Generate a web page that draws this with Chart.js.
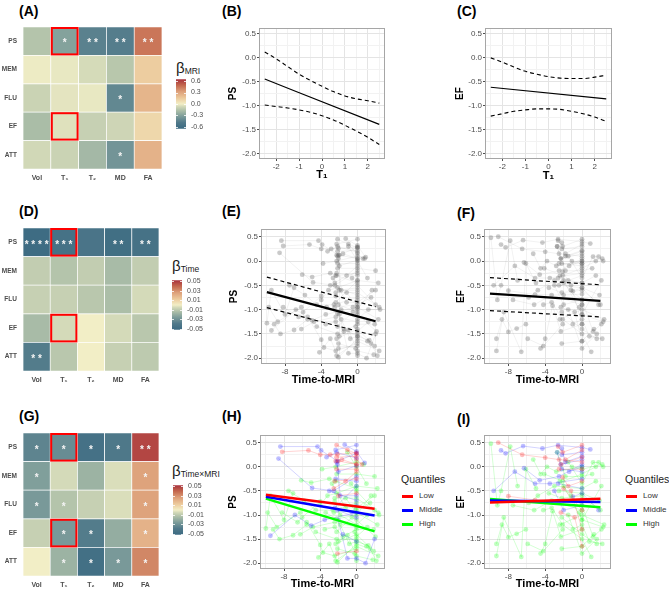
<!DOCTYPE html>
<html>
<head>
<meta charset="utf-8">
<script src="https://cdn.jsdelivr.net/npm/chart.js@4.4.1/dist/chart.umd.min.js"></script>
<style>
  body { margin: 0; background: #fff; width: 669px; height: 592px; position: relative; overflow: hidden;
         font-family: "Liberation Sans", Arial, sans-serif; }
  canvas { position: absolute; }
  .tag { position: absolute; font-weight: bold; font-size: 14px; line-height: 14px; color: #000; }
  .cbt { position: absolute; color: #1a1a1a; line-height: 1; white-space: nowrap; font-size: 15px; }
  .cbt sub { font-size: 8.5px; vertical-align: baseline; position: relative; top: 1px; }
  .qt { position: absolute; font-size: 10.5px; color: #1a1a1a; line-height: 1; }
  .ql { position: absolute; font-size: 8px; color: #333; line-height: 1; }
  .qk { position: absolute; height: 3px; width: 11px; }
</style>
</head>
<body>

<div class="tag" style="left:19px;top:4px">(A)</div>
<div class="tag" style="left:222px;top:4px">(B)</div>
<div class="tag" style="left:457px;top:4px">(C)</div>
<div class="tag" style="left:19px;top:204px">(D)</div>
<div class="tag" style="left:222px;top:204px">(E)</div>
<div class="tag" style="left:457px;top:206px">(F)</div>
<div class="tag" style="left:19px;top:409px">(G)</div>
<div class="tag" style="left:222px;top:409px">(H)</div>
<div class="tag" style="left:457px;top:412px">(I)</div>

<div class="cbt" style="left:176px;top:60px">β<sub>MRI</sub></div>
<div class="cbt" style="left:172px;top:258px">β<sub>Time</sub></div>
<div class="cbt" style="left:172px;top:463px">β<sub>Time×MRI</sub></div>

<div class="qt" style="left:401px;top:474px">Quantiles</div>
<div class="qk" style="left:402px;top:495px;background:#ff0000"></div>
<div class="qk" style="left:402px;top:509px;background:#0000ff"></div>
<div class="qk" style="left:402px;top:523px;background:#00ff00"></div>
<div class="ql" style="left:419px;top:492px">Low</div>
<div class="ql" style="left:419px;top:506px">Middle</div>
<div class="ql" style="left:419px;top:520px">High</div>

<div class="qt" style="left:625px;top:474px">Quantiles</div>
<div class="qk" style="left:626px;top:495px;background:#ff0000"></div>
<div class="qk" style="left:626px;top:509px;background:#0000ff"></div>
<div class="qk" style="left:626px;top:523px;background:#00ff00"></div>
<div class="ql" style="left:643px;top:492px">Low</div>
<div class="ql" style="left:643px;top:506px">Middle</div>
<div class="ql" style="left:643px;top:520px">High</div>

<script>
// ---- heatmap data ----
const ROWS = ['PS', 'MEM', 'FLU', 'EF', 'ATT'];
const COLS = ['Vol', 'T₁', 'T₂', 'MD', 'FA'];
const BOXED = [['PS', 'T₁'], ['EF', 'T₁']];

const BETA_MRI = [
  [-0.15, -0.30, -0.45, -0.47, 0.45],
  [-0.01, -0.02, -0.06, -0.14, 0.14],
  [-0.09, -0.03, -0.02, -0.42, 0.24],
  [-0.18, -0.04, -0.10, -0.08, 0.10],
  [-0.07, -0.09, -0.20, -0.36, 0.25]
];
const STARS_MRI = [
  ['', '*', '**', '**', '**'],
  ['', '', '', '', ''],
  ['', '', '', '*', ''],
  ['', '', '', '', ''],
  ['', '', '', '*', '']
];
const BETA_TIME = [
  [-0.050, -0.045, -0.043, -0.048, -0.045],
  [-0.009, -0.012, -0.009, -0.015, -0.009],
  [-0.008, -0.008, -0.011, -0.014, -0.005],
  [-0.015, -0.005, 0.000, -0.005, -0.011],
  [-0.038, -0.011, 0.000, -0.008, -0.010]
];
const STARS_TIME = [
  ['****', '***', '', '**', '**'],
  ['', '', '', '', ''],
  ['', '', '', '', ''],
  ['', '', '', '', ''],
  ['**', '', '', '', '']
];
const BETA_INT = [
  [-0.035, -0.032, -0.046, -0.040, 0.047],
  [-0.025, -0.005, -0.018, -0.004, 0.025],
  [-0.027, -0.012, -0.008, -0.004, 0.025],
  [-0.008, -0.027, -0.038, -0.020, 0.020],
  [0.000, -0.018, -0.047, -0.027, 0.032]
];
const STARS_INT = [
  ['*', '*', '*', '*', '**'],
  ['*', '', '', '', '*'],
  ['*', '*', '', '', '*'],
  ['', '*', '*', '', '*'],
  ['', '*', '*', '*', '*']
];
const CB_TICKS_MRI = [0.6, 0.3, 0, -0.3, -0.6];
const CB_TICKS_TIME = [0.05, 0.03, 0.01, -0.01, -0.03, -0.05];

// ---- T1 effect curves (B, C) ----
const T1_X = [-2.5, -2, -1.5, -1, -0.5, 0, 0.5, 1, 1.5, 2, 2.5];
const T1_FIT_X = [-2.5, 2.5];
const PS_T1_FIT = [-0.45, -1.39];
const PS_T1_UPPER = [0.11, -0.03, -0.19, -0.35, -0.48, -0.60, -0.71, -0.80, -0.86, -0.90, -0.95];
const PS_T1_LOWER = [-0.99, -1.02, -1.05, -1.09, -1.14, -1.21, -1.30, -1.41, -1.53, -1.66, -1.81];
const EF_T1_FIT = [-0.62, -0.86];
const EF_T1_UPPER = [-0.01, -0.10, -0.20, -0.29, -0.35, -0.40, -0.43, -0.44, -0.44, -0.41, -0.37];
const EF_T1_LOWER = [-1.22, -1.17, -1.12, -1.09, -1.07, -1.07, -1.08, -1.12, -1.17, -1.24, -1.33];

// ---- time-to-MRI fits (E, F, H, I) ----
const TIME_FIT_X = [-10, 2];
const PS_TIME_FIT = [-0.64, -1.24];
const PS_TIME_UPPER = [-0.33, -0.94];
const PS_TIME_LOWER = [-0.96, -1.54];
const EF_TIME_FIT = [-0.67, -0.82];
const EF_TIME_UPPER = [-0.34, -0.49];
const EF_TIME_LOWER = [-1.02, -1.15];
const PS_Q_LOW = [-0.58, -0.87];
const PS_Q_MID = [-0.62, -1.01];
const PS_Q_HIGH = [-0.66, -1.34];
const EF_Q_LOW = [-0.74, -0.66];
const EF_Q_MID = [-0.70, -0.73];
const EF_Q_HIGH = [-0.67, -0.84];

// subjects: [quantile, [[time, score], ...]]
const PS_SUBJECTS = [
  ['L', [[-8.2, 0.31], [-5.3, 0.34], [-4, 0.25], [-2.9, 0.25], [-2.1, 0.26], [0, 0.29]]],
  ['L', [[-2.2, 0.45], [0, 0.27]]],
  ['L', [[-2.3, 0.12], [-2, 0.12], [0, 0.05]]],
  ['L', [[-2.5, -0.45], [-1.2, -0.3], [0, -0.1]]],
  ['L', [[-2.1, -1.8], [0, -1.75]]],
  ['L', [[-2.4, -0.3], [0, -0.25]]],
  ['L', [[-1, 0.35], [0, 0.15], [0.6, 0.05]]],
  ['L', [[-2.2, -0.05], [0, -0.05]]],
  ['L', [[-2.0, -0.6], [0, -0.55]]],
  ['L', [[-2.2, 0.2], [0, 0.22]]],
  ['L', [[-1.6, 0.15], [0, 0.05]]],
  ['M', [[-8.4, 0.42], [-4.3, 0.42], [-3.9, 0.34], [-2.1, 0.12], [0, 0.28]]],
  ['M', [[-8.6, 0.17], [-4.9, -0.44], [-2.5, -0.5], [0, -0.2]]],
  ['M', [[-1.3, 0.46], [0, 0.32], [0.9, 0.08]]],
  ['M', [[-2.2, 0.1], [-2.0, -0.1], [0, 0.02]]],
  ['M', [[-9.5, -1.43], [-6.8, -1.0], [-5, -1.22], [-3.5, -1.1], [0, -0.95]]],
  ['M', [[-2.3, -0.25], [0, -0.3]]],
  ['M', [[-2, -1.1], [-1, -1.9], [0, -1.9], [1, -2.0], [2, -1.5]]],
  ['M', [[-2.1, 0.05], [-1.8, -0.6], [0, -0.6]]],
  ['M', [[-0.5, -0.95], [0, -0.8]]],
  ['M', [[-1.5, -1.4], [0, -1.55]]],
  ['M', [[-3.0, -0.5], [0, -0.7]]],
  ['M', [[-2.4, -0.85], [0, -0.4]]],
  ['M', [[-2.3, 0.35], [0, 0.45]]],
  ['M', [[-2.1, -0.9], [0, -1.05]]],
  ['M', [[-3.3, 0.2], [-2.2, 0.3], [0, 0.18]]],
  ['H', [[-10, -1.28], [-9.5, -0.6], [-8, -1.1], [-7, -0.55]]],
  ['H', [[-9.2, -1.3], [-8.5, -1.5], [-7, -1.42], [-5.5, -1.2]]],
  ['H', [[-8.2, -0.95], [-6.5, -1.15], [-6, -1.05], [-4, -0.72]]],
  ['H', [[-6.1, -0.28], [-5, -0.33], [-3, -0.25], [-2.3, -0.3], [0, -0.45]]],
  ['H', [[-5.5, -1.15], [-4, -1.62], [-3.7, -1.78], [-2.4, -1.85], [0, -1.7]]],
  ['H', [[-4.2, -1.88], [-3, -1.6], [-2.1, -1.98], [0, -1.6], [1.5, -1.7]]],
  ['H', [[-4, -0.8], [-3.2, -0.6], [-2.2, -0.55], [0, -0.4], [2.3, -0.45]]],
  ['H', [[-3.5, -1.3], [-2.4, -1.25], [-1.5, -1.45], [0, -1.3], [1.9, -1.3]]],
  ['H', [[-2.4, -0.72], [-1.8, -1.0], [0, -1.2], [1.2, -1.0], [2.5, -1.0]]],
  ['H', [[-2.0, -1.55], [-1, -1.42], [0, -1.85], [1.8, -1.93]]],
  ['H', [[-2.7, -0.35], [-1.2, -0.85], [0, -0.85], [2, -0.6]]],
  ['H', [[-1.8, -1.2], [-0.8, -1.6], [0, -1.55], [1.3, -1.63], [2.2, -1.95]]],
  ['H', [[-3.4, -0.95], [-2.2, -1.08], [0, -1.0], [1.6, -0.6]]],
  ['H', [[-1.0, 0.3], [0, 0.0], [1.1, -0.35]]],
  ['H', [[-2.2, -1.35], [-0.5, -1.05], [0, -1.1], [2.1, -1.45]]],
  ['H', [[-7.5, -0.5], [-5.8, -0.7], [-4.5, -0.9], [-2.6, -0.9], [0, -0.75]]],
  ['H', [[-2.1, -1.7], [-0.2, -1.8], [0, -1.95]]],
  ['H', [[-0.6, -0.35], [0, -0.5], [2, -0.9]]],
  ['H', [[-2.3, -1.6], [0, -1.4], [1.9, -1.75]]],
  ['H', [[-2.2, -0.15], [0, -0.15], [2, -0.2]]],
  ['H', [[-2.5, -0.95], [0, -0.9], [1.5, -0.75]]],
  ['H', [[-3.8, -0.05], [-2.3, 0.0], [0, 0.1], [0.8, 0.05]]],
  ['H', [[-2.4, -0.65], [0, -0.65], [2.4, -0.95]]],
  ['H', [[-4.5, -1.35], [-2.2, -1.5], [0, -1.5], [1.1, -1.65]]],
  ['H', [[-6.2, -1.4], [-4.8, -1.25], [-2.4, -1.15], [0, -1.25]]],
  ['H', [[-9.8, -0.95], [-8.8, -1.25], [-6.2, -0.95]]],
  ['H', [[-2.3, -1.95], [0, -1.65], [2.4, -1.85]]],
  ['H', [[-1.2, -0.65], [0, -0.95], [2.3, -1.2]]],
  ['H', [[-0.2, -1.35], [0, -1.45], [1.2, -1.25]]]
];
const EF_SUBJECTS = [
  ['L', [[-9.1, 0.5], [-6.5, 0.25], [-4, 0.19], [-2.5, 0.15], [0, 0.1]]],
  ['L', [[-2.6, 0.42], [-2.1, 0.3], [0, 0.45]]],
  ['L', [[-8.0, -0.61], [-5.1, -0.69], [-2.0, -0.7], [0, -0.68]]],
  ['L', [[-2.1, -0.22], [-1.5, -0.4], [0, -0.3]]],
  ['L', [[-2.3, -0.95], [-0.8, -1.05], [0, -1.65]]],
  ['L', [[-1.8, 0.15], [0, 0.35]]],
  ['L', [[-2.5, -0.05], [0, -0.05]]],
  ['L', [[-1.2, -0.5], [0, -1.3]]],
  ['L', [[-2.3, 0.05], [0, 0.2]]],
  ['L', [[-2.0, -0.45], [0, -0.9]]],
  ['M', [[-8.8, 0.34], [-8.3, 0.28], [-6.4, 0.43], [-4.3, 0.38], [-2.6, 0.45], [0, 0.4], [0.9, 0.36]]],
  ['M', [[-9.6, -0.5], [-7.3, -0.1], [-5.1, -0.35], [-3.5, -0.35], [0, -0.25]]],
  ['M', [[-6.3, -0.03], [-4.6, -0.28], [-2.5, -0.2], [0, 0.05]]],
  ['M', [[-2.2, 0.38], [-1.8, 0.1], [0, 0.22]]],
  ['M', [[-3.0, -0.5], [-2.0, -0.9], [0, -0.8]]],
  ['M', [[-2.7, 0.3], [-2.2, -0.05], [0, -0.1]]],
  ['M', [[-1, -0.62], [0, -0.55], [1.8, -0.9]]],
  ['M', [[-2.3, 0.05], [0, 0.15]]],
  ['M', [[-2.2, 0.25], [0, 0.3]]],
  ['M', [[-2.6, -0.35], [0, -0.45]]],
  ['M', [[-1.4, -0.1], [0, 0.0]]],
  ['H', [[-9.9, 0.48], [-9.2, -0.8], [-8.8, -0.5], [-7.8, 0.42], [-7.0, -0.4]]],
  ['H', [[-9.3, -1.6], [-8.7, -1.2], [-8, -1.46], [-7.1, -1.39], [-6.1, -1.3]]],
  ['H', [[-9.3, -1.85], [-8.5, -1.05], [-6.6, -1.87], [-6.1, -0.05], [-5, -0.45]]],
  ['H', [[-4.5, -1.8], [-4, -1.6], [-3.2, -0.92], [-2.3, -1.45], [0, -1.3]]],
  ['H', [[-5.3, 0.15], [-4.5, -0.15], [-3.8, 0.0], [-2.8, -0.1], [0, 0.0]]],
  ['H', [[-4.2, -0.9], [-3.3, -0.85], [-2.1, -1.2], [0, -1.5], [1, -1.87]]],
  ['H', [[-2.4, -0.3], [-1.2, -0.6], [0, -0.8], [1.2, -1.45], [2.1, -1.3]]],
  ['H', [[-1.5, 0.1], [0, -0.35], [1.2, 0.09], [1.8, 0.09], [2.3, 0.0]]],
  ['H', [[-2.0, -0.4], [0, -1.1], [2.1, -0.4]]],
  ['H', [[-3.6, -0.55], [-2.2, -0.65], [0, -0.6], [2, -0.9]]],
  ['H', [[-1.5, -1.0], [0, -1.8], [1.6, -1.5]]],
  ['H', [[-5.8, -0.75], [-4.8, -0.6], [-3, -0.4], [0, -0.45], [1.5, -0.3]]],
  ['H', [[-2.7, 0.3], [-1.8, -0.2], [0, -0.2], [1.1, -0.15]]],
  ['H', [[-1.0, -1.3], [0, -1.2], [0.8, -1.55], [2.2, -1.6]]],
  ['H', [[-2.4, -1.2], [0, -1.0], [2.4, -1.2]]],
  ['H', [[-2.5, -0.5], [0, -0.55], [1.9, -0.7]]],
  ['H', [[-4.1, -0.15], [-2.1, -0.3], [0, -0.15], [1.5, 0.0]]],
  ['H', [[-2.2, -1.05], [0, -1.4], [1.6, -1.6]]],
  ['H', [[-7.5, -0.8], [-5.2, -0.9], [-3.3, -0.7], [0, -0.9]]],
  ['H', [[-1.1, 0.0], [0, -0.05], [2.2, 0.05]]],
  ['H', [[-2.2, -1.7], [0, -1.65], [1.3, -1.4]]],
  ['H', [[-5.9, -1.6], [-4.2, -1.75], [-2.1, -1.3]]],
  ['H', [[-0.3, -0.95], [0, -1.1], [2.3, -1.25]]]
];

// ---- axis ticks ----
const SCORE_TICKS = [0.5, 0, -0.5, -1, -1.5, -2];
const SCORE_MINOR = [0.25, -0.25, -0.75, -1.25, -1.75];
const T1_TICKS = [-2, -1, 0, 1, 2];
const T1_MINOR = [-2.5, -1.5, -0.5, 0.5, 1.5, 2.5];
const TIME_TICKS = [-8, -4, 0];
const TIME_MINOR = [-10, -6, -2, 2];

// ---- setup ----
const FONT = '"Liberation Sans", Arial, sans-serif';
Chart.defaults.font.family = FONT;
Chart.defaults.animation = false;
Chart.defaults.responsive = false;
Chart.defaults.events = [];
Chart.defaults.plugins.legend.display = false;
Chart.defaults.plugins.tooltip.enabled = false;

const STOPS = [[-1, '#3b6a82'], [-0.75, '#50798a'], [-0.5, '#7c9c9a'], [-0.25, '#b0c1a9'], [-0.1, '#d3d9b8'],
               [0, '#f2eec6'], [0.25, '#ecc89a'], [0.5, '#dda07a'], [0.75, '#c4694f'], [1, '#a8303c']];
const rgb = h => [1, 3, 5].map(i => parseInt(h.substr(i, 2), 16));

function fill(t) {
  t = Math.max(-1, Math.min(1, t));
  for (let i = 1; i < STOPS.length; i++) {
    const [t1, c1] = STOPS[i];
    const [t0, c0] = STOPS[i - 1];
    if (t <= t1) {
      const f = (t - t0) / (t1 - t0), a = rgb(c0), b = rgb(c1);
      return 'rgb(' + a.map((v, k) => Math.round(v + (b[k] - v) * f)).join(',') + ')';
    }
  }
  return STOPS[STOPS.length - 1][1];
}

function place(r) {
  const c = document.createElement('canvas');
  c.width = r.w; c.height = r.h;
  c.style.left = r.l + 'px'; c.style.top = r.t + 'px';
  document.body.appendChild(c);
  return c;
}

function heatmap(rect, plot, vals, stars, lim) {
  const n = ROWS.length;
  new Chart(place(rect), {
    type: 'bar',
    data: {
      labels: COLS,
      datasets: ROWS.map((r, i) => ({
        label: r,
        data: COLS.map(() => 1),
        backgroundColor: vals[i].map(v => fill(v / lim)),
        borderColor: '#ffffff', borderWidth: 0.7, borderSkipped: false,
        barPercentage: 1, categoryPercentage: 1
      })).reverse()
    },
    options: {
      layout: { padding: { left: 0, top: plot.y0 - rect.t, right: rect.l + rect.w - plot.x1, bottom: 0 } },
      scales: {
        x: {
          stacked: true,
          grid: { display: false, drawTicks: false }, border: { display: false },
          ticks: { autoSkip: false, maxRotation: 0, padding: 5, color: '#4d4d4d', font: { size: 7, weight: 'bold' } },
          afterFit: s => { s.height = rect.t + rect.h - plot.y1; }
        },
        y: {
          stacked: true, min: 0, max: n,
          grid: { display: false, drawTicks: false }, border: { display: false },
          afterBuildTicks: s => { s.ticks = ROWS.map((r, i) => ({ value: n - 0.5 - i })); },
          ticks: { autoSkip: false, padding: 6, color: '#4d4d4d', font: { size: 6.5, weight: 'bold' },
                   callback: v => ROWS[Math.round(n - 0.5 - v)] },
          afterFit: s => { s.width = plot.x0 - rect.l; }
        }
      }
    },
    plugins: [{
      id: 'cells',
      afterDatasetsDraw(c) {
        const { ctx, scales: { x, y } } = c;
        const w = x.getPixelForValue(1) - x.getPixelForValue(0);
        ctx.save();
        ctx.fillStyle = '#f4f4f4';
        ctx.font = 'bold 10px ' + FONT;
        ctx.textAlign = 'center';
        ctx.textBaseline = 'middle';
        stars.forEach((row, i) => row.forEach((s, j) => {
          if (s) ctx.fillText(s.split('').join(' '), x.getPixelForValue(j), y.getPixelForValue(n - 0.5 - i) + 2.5);
        }));
        ctx.strokeStyle = '#ff0000';
        ctx.lineWidth = 2;
        BOXED.forEach(([rn, cn]) => {
          const i = ROWS.indexOf(rn), j = COLS.indexOf(cn);
          const cx = x.getPixelForValue(j);
          const top = y.getPixelForValue(n - i), bot = y.getPixelForValue(n - 1 - i);
          ctx.strokeRect(cx - w / 2 + 1, top + 1, w - 2, bot - top - 2);
        });
        ctx.restore();
      }
    }]
  });
}

function colorbar(rect, bar, ticks, lim, digits) {
  new Chart(place(rect), {
    type: 'bar',
    data: {
      labels: [''],
      datasets: [{
        data: [[-lim, lim]], barPercentage: 1, categoryPercentage: 1, borderWidth: 0,
        backgroundColor: ctx => {
          const a = ctx.chart.chartArea;
          if (!a) return null;
          const g = ctx.chart.ctx.createLinearGradient(0, a.bottom, 0, a.top);
          STOPS.forEach(([t, c]) => g.addColorStop((t + 1) / 2, c));
          return g;
        }
      }]
    },
    options: {
      layout: { padding: { left: bar.x0 - rect.l, top: bar.y0 - rect.t, right: 0, bottom: rect.t + rect.h - bar.y1 } },
      scales: {
        x: { display: false },
        y: {
          position: 'right', min: -lim, max: lim,
          grid: { display: false, drawTicks: false }, border: { display: false },
          afterBuildTicks: s => { s.ticks = ticks.map(v => ({ value: v })); },
          ticks: { autoSkip: false, padding: 5, color: '#4d4d4d', font: { size: 7 }, callback: v => v.toFixed(digits) },
          afterFit: s => { s.width = rect.l + rect.w - bar.x1; }
        }
      }
    },
    plugins: [{
      id: 'cbticks',
      afterDatasetsDraw(c) {
        const { ctx, chartArea: a, scales: { y } } = c;
        ctx.save();
        ctx.strokeStyle = '#ffffff';
        ctx.lineWidth = 0.8;
        ticks.forEach(v => {
          const py = Math.round(y.getPixelForValue(v)) + 0.5;
          ctx.beginPath();
          ctx.moveTo(a.left, py); ctx.lineTo(a.left + 2, py);
          ctx.moveTo(a.right - 2, py); ctx.lineTo(a.right, py);
          ctx.stroke();
        });
        ctx.restore();
      }
    }]
  });
}

const frame = {
  id: 'frame',
  afterDraw(c) {
    const a = c.chartArea, ctx = c.ctx;
    ctx.save();
    ctx.strokeStyle = '#a6a6a6';
    ctx.lineWidth = 1;
    ctx.strokeRect(a.left + 0.5, a.top + 0.5, a.width - 1, a.height - 1);
    ctx.restore();
  }
};

function scatterPanel(rect, plot, ax, datasets) {
  const majX = v => ax.xMajor.includes(v), majY = v => ax.yMajor.includes(v);
  const gridCol = f => c => (c.tick && f(c.tick.value)) ? '#e4e4e4' : '#f2f2f2';
  const tickCol = f => c => (c.tick && f(c.tick.value)) ? '#4d4d4d' : 'rgba(0,0,0,0)';
  new Chart(place(rect), {
    type: 'scatter',
    data: { datasets },
    options: {
      layout: { padding: { left: 0, top: plot.y0 - rect.t, right: rect.l + rect.w - plot.x1, bottom: 0 } },
      scales: {
        x: {
          type: 'linear', min: ax.xMin, max: ax.xMax,
          afterBuildTicks: s => { s.ticks = ax.xMajor.concat(ax.xMinor).map(v => ({ value: v })); },
          grid: { color: gridCol(majX), tickColor: tickCol(majX), tickLength: 2 },
          border: { display: false },
          ticks: { autoSkip: false, maxRotation: 0, padding: 1, color: '#4d4d4d', font: { size: 8 },
                   callback: v => majX(v) ? String(v) : '' },
          title: { display: true, text: ax.xTitle, color: '#000', font: { size: ax.xTitleSize, weight: 'bold' },
                   padding: { top: 0, bottom: ax.xTitlePad } },
          afterFit: s => { s.height = rect.t + rect.h - plot.y1; }
        },
        y: {
          type: 'linear', min: ax.yMin, max: ax.yMax,
          afterBuildTicks: s => { s.ticks = ax.yMajor.concat(ax.yMinor).map(v => ({ value: v })); },
          grid: { color: gridCol(majY), tickColor: tickCol(majY), tickLength: 2 },
          border: { display: false },
          ticks: { autoSkip: false, padding: 1, color: '#4d4d4d', font: { size: 8 },
                   callback: v => majY(v) ? v.toFixed(1) : '' },
          title: { display: true, text: ax.yTitle, color: '#000', font: { size: 10, weight: 'bold' },
                   padding: { top: 2, bottom: 0 } },
          afterFit: s => { s.width = plot.x0 - rect.l; }
        }
      }
    },
    plugins: [frame]
  });
}

function fitLine(xs, ys, color, width, dash) {
  return {
    data: xs.map((x, i) => ({ x, y: ys[i] })),
    showLine: true, order: 0, borderColor: color, borderWidth: width, borderDash: dash || [],
    pointRadius: 0, cubicInterpolationMode: 'monotone'
  };
}

const QCOL = { L: '255,0,0', M: '0,0,255', H: '0,255,0' };

function trajectories(subjects, coloured) {
  return subjects.map(([q, pts]) => ({
    data: pts.map(([x, y]) => ({ x, y })),
    showLine: true, order: 2,
    borderColor: coloured ? 'rgba(' + QCOL[q] + ',0.22)' : 'rgba(0,0,0,0.07)',
    borderWidth: 0.8,
    pointRadius: 2.4, pointBorderWidth: 0,
    pointBackgroundColor: coloured ? 'rgba(' + QCOL[q] + ',0.25)' : 'rgba(90,90,90,0.32)'
  }));
}

const T1_AXES = { xMin: -2.75, xMax: 2.75, xMajor: T1_TICKS, xMinor: T1_MINOR, yMin: -2.11, yMax: 0.61,
                  yMajor: SCORE_TICKS, yMinor: SCORE_MINOR, xTitle: 'T₁', xTitleSize: 11, xTitlePad: 2 };
const TIME_AXES = { xMin: -10.65, xMax: 3.15, xMajor: TIME_TICKS, xMinor: TIME_MINOR, yMin: -2.12, yMax: 0.66,
                    yMajor: SCORE_TICKS, yMinor: SCORE_MINOR, xTitle: 'Time-to-MRI', xTitleSize: 11, xTitlePad: 2 };

// ---- heatmaps ----
heatmap({ l: 0, t: 15, w: 165, h: 180 }, { x0: 23, y0: 27, x1: 162, y1: 169 }, BETA_MRI, STARS_MRI, 0.65);
heatmap({ l: 0, t: 215, w: 165, h: 180 }, { x0: 23, y0: 228, x1: 159, y1: 371 }, BETA_TIME, STARS_TIME, 0.052);
heatmap({ l: 0, t: 420, w: 165, h: 172 }, { x0: 23, y0: 433, x1: 159, y1: 576 }, BETA_INT, STARS_INT, 0.052);

colorbar({ l: 170, t: 70, w: 50, h: 68 }, { x0: 176, y0: 75, x1: 186, y1: 132 }, CB_TICKS_MRI, 0.65, 1);
colorbar({ l: 166, t: 271, w: 50, h: 68 }, { x0: 172, y0: 276, x1: 182, y1: 333 }, CB_TICKS_TIME, 0.052, 2);
colorbar({ l: 167, t: 476, w: 50, h: 68 }, { x0: 173, y0: 481, x1: 183, y1: 538 }, CB_TICKS_TIME, 0.052, 2);

// ---- B, C ----
scatterPanel({ l: 225, t: 15, w: 165, h: 169 }, { x0: 259, y0: 28, x1: 385, y1: 159 },
  Object.assign({}, T1_AXES, { yTitle: 'PS' }), [
    fitLine(T1_FIT_X, PS_T1_FIT, '#000', 1.2),
    fitLine(T1_X, PS_T1_UPPER, '#000', 1.1, [4, 3]),
    fitLine(T1_X, PS_T1_LOWER, '#000', 1.1, [4, 3])
  ]);
scatterPanel({ l: 452, t: 15, w: 165, h: 170 }, { x0: 485, y0: 28, x1: 612, y1: 159 },
  Object.assign({}, T1_AXES, { yTitle: 'EF' }), [
    fitLine(T1_FIT_X, EF_T1_FIT, '#000', 1.2),
    fitLine(T1_X, EF_T1_UPPER, '#000', 1.1, [4, 3]),
    fitLine(T1_X, EF_T1_LOWER, '#000', 1.1, [4, 3])
  ]);

// ---- E, F ----
scatterPanel({ l: 226, t: 215, w: 165, h: 174 }, { x0: 261, y0: 229, x1: 386, y1: 364 },
  Object.assign({}, TIME_AXES, { yTitle: 'PS' }), [
    fitLine(TIME_FIT_X, PS_TIME_FIT, '#000', 2.2),
    fitLine(TIME_FIT_X, PS_TIME_UPPER, '#000', 1.2, [4, 3]),
    fitLine(TIME_FIT_X, PS_TIME_LOWER, '#000', 1.2, [4, 3])
  ].concat(trajectories(PS_SUBJECTS, false)));
scatterPanel({ l: 453, t: 215, w: 165, h: 174 }, { x0: 484, y0: 229, x1: 611, y1: 364 },
  Object.assign({}, TIME_AXES, { yTitle: 'EF' }), [
    fitLine(TIME_FIT_X, EF_TIME_FIT, '#000', 2.2),
    fitLine(TIME_FIT_X, EF_TIME_UPPER, '#000', 1.2, [4, 3]),
    fitLine(TIME_FIT_X, EF_TIME_LOWER, '#000', 1.2, [4, 3])
  ].concat(trajectories(EF_SUBJECTS, false)));

// ---- H, I ----
scatterPanel({ l: 225, t: 420, w: 165, h: 172 }, { x0: 260, y0: 435, x1: 385, y1: 569 },
  Object.assign({}, TIME_AXES, { yTitle: 'PS', xTitlePad: 1 }), [
    fitLine(TIME_FIT_X, PS_Q_LOW, '#ff0000', 2.5),
    fitLine(TIME_FIT_X, PS_Q_MID, '#0000ff', 2.5),
    fitLine(TIME_FIT_X, PS_Q_HIGH, '#00ff00', 2.5)
  ].concat(trajectories(PS_SUBJECTS, true)));
scatterPanel({ l: 453, t: 420, w: 165, h: 172 }, { x0: 484, y0: 435, x1: 611, y1: 569 },
  Object.assign({}, TIME_AXES, { yTitle: 'EF', xTitlePad: 1 }), [
    fitLine(TIME_FIT_X, EF_Q_LOW, '#ff0000', 2.5),
    fitLine(TIME_FIT_X, EF_Q_MID, '#0000ff', 2.5),
    fitLine(TIME_FIT_X, EF_Q_HIGH, '#00ff00', 2.5)
  ].concat(trajectories(EF_SUBJECTS, true)));
</script>
</body>
</html>
